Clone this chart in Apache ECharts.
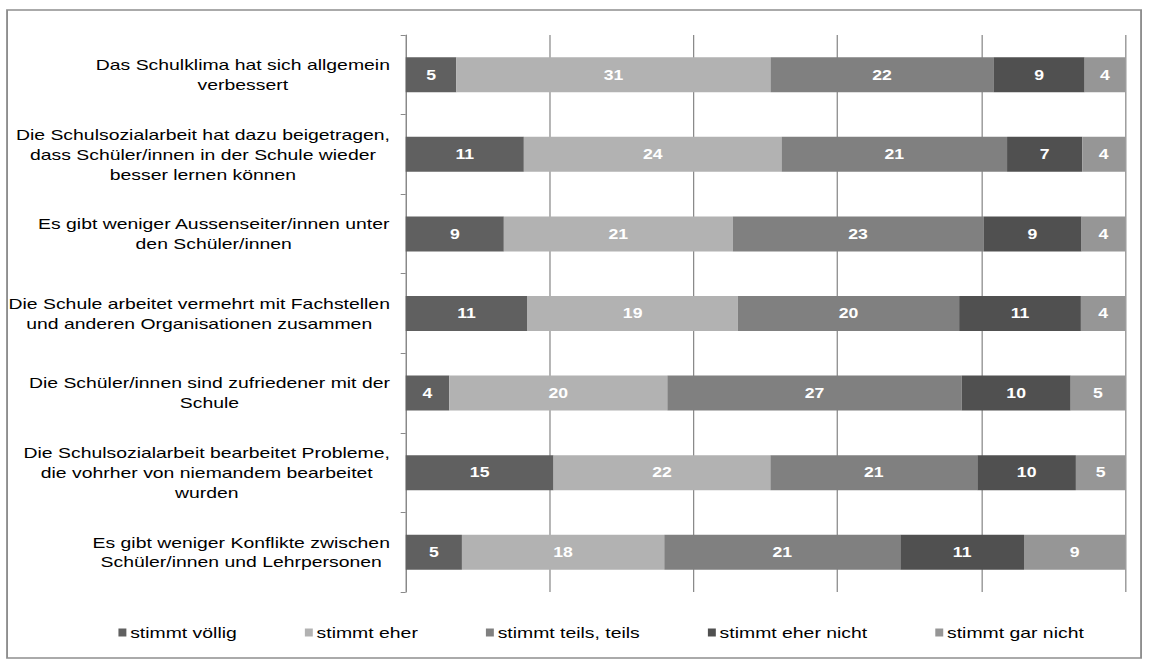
<!DOCTYPE html>
<html>
<head>
<meta charset="utf-8">
<script src="https://cdn.jsdelivr.net/npm/echarts@6/dist/echarts.min.js"></script>
<style>
html,body{margin:0;padding:0;background:#fff;overflow:hidden;width:1149px;height:666px;}
#chart{width:912px;height:666px;transform:scaleX(1.26);transform-origin:0 0;}
</style>
</head>
<body>
<div id="chart"></div>
<script>
const categories = [
  "Das Schulklima hat sich allgemein\nverbessert",
  "Die Schulsozialarbeit hat dazu beigetragen,\ndass Schüler/innen in der Schule wieder\nbesser lernen können",
  "Es gibt weniger Aussenseiter/innen unter\nden Schüler/innen",
  "Die Schule arbeitet vermehrt mit Fachstellen\nund anderen Organisationen zusammen",
  "Die Schüler/innen sind zufriedener mit der\nSchule",
  "Die Schulsozialarbeit bearbeitet Probleme,\ndie vohrher von niemandem bearbeitet\nwurden",
  "Es gibt weniger Konflikte zwischen\nSchüler/innen und Lehrpersonen"
];
const seriesNames = ["stimmt völlig", "stimmt eher", "stimmt teils, teils", "stimmt eher nicht", "stimmt gar nicht"];
const stimmtVoellig   = [5, 11, 9, 11, 4, 15, 5];
const stimmtEher      = [31, 24, 21, 19, 20, 22, 18];
const stimmtTeils     = [22, 21, 23, 20, 27, 21, 21];
const stimmtEherNicht = [9, 7, 9, 11, 10, 10, 11];
const stimmtGarNicht  = [4, 4, 4, 4, 5, 5, 9];
const xTicks = [0, 20, 40, 60, 80, 100];

const colors = ["#606060", "#b2b2b2", "#808080", "#505050", "#969696"];
const raw = [stimmtVoellig, stimmtEher, stimmtTeils, stimmtEherNicht, stimmtGarNicht];
const totals = categories.map((_, i) => raw.reduce((s, arr) => s + arr[i], 0));

const series = raw.map((arr, k) => ({
  name: seriesNames[k],
  type: 'bar',
  stack: 'total',
  barWidth: 35,
  itemStyle: { color: colors[k] },
  label: {
    show: true,
    position: 'inside',
    color: '#ffffff',
    fontFamily: '"Liberation Sans", Arial, sans-serif',
    fontWeight: 'bold',
    fontSize: 14,
    formatter: p => String(arr[p.dataIndex])
  },
  data: arr.map((v, i) => v / totals[i] * 100)
}));

const chart = echarts.init(document.getElementById('chart'), null, { renderer: 'svg' });
chart.setOption({
  animation: false,
  backgroundColor: '#ffffff',
  graphic: [{
    type: 'rect',
    shape: { x: 5.6, y: 10, width: 900, height: 648 },
    style: { fill: 'none', stroke: '#8e8e8e', lineWidth: 1.5 },
    silent: true
  }],
  grid: { left: 322, right: 19, top: 35, bottom: 74, containLabel: false },
  xAxis: {
    type: 'value',
    min: xTicks[0],
    max: xTicks[xTicks.length - 1],
    interval: xTicks[1] - xTicks[0],
    axisLabel: { show: false },
    axisLine: { show: false },
    axisTick: { show: false },
    splitLine: { show: true, lineStyle: { color: '#8a8a8a', width: 1 } }
  },
  yAxis: {
    type: 'category',
    inverse: true,
    data: categories,
    axisLine: { show: true, lineStyle: { color: '#8a8a8a', width: 1 } },
    axisTick: { show: true, length: 4, lineStyle: { color: '#8a8a8a' } },
    axisLabel: {
      margin: 12.5,
      color: '#000000',
      align: 'right',
      formatter: v => v.split('\n').map(l => '{c|' + l + '}').join('\n'),
      rich: {
        c: {
          align: 'center',
          fontFamily: '"Liberation Sans", Arial, sans-serif',
          fontSize: 15.4,
          lineHeight: 20,
          color: '#000000'
        }
      }
    }
  },
  legend: {
    bottom: 21,
    left: 89,
    icon: 'rect',
    itemWidth: 6.3,
    itemHeight: 8,
    itemGap: 54,
    textStyle: { fontFamily: '"Liberation Sans", Arial, sans-serif', fontSize: 15.4, color: '#000000', padding: [0, 0, 0, -2] },
    data: seriesNames
  },
  series: series
});
</script>
</body>
</html>
